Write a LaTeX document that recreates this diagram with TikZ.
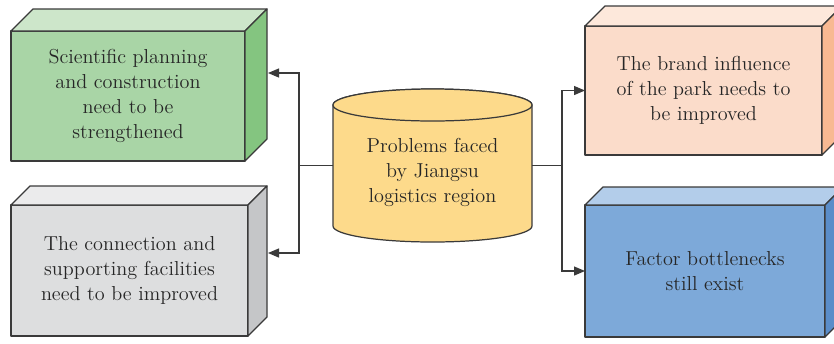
\documentclass[tikz,border=0pt]{standalone}
\usetikzlibrary{arrows.meta}

\definecolor{grnFront}{HTML}{A9D5A6}
\definecolor{grnTop}{HTML}{CDE6CA}
\definecolor{grnSide}{HTML}{84C580}
\definecolor{gryFront}{HTML}{DDDEDF}
\definecolor{gryTop}{HTML}{EBEBEC}
\definecolor{grySide}{HTML}{C5C6C8}
\definecolor{pchFront}{HTML}{FBDCCA}
\definecolor{pchTop}{HTML}{FDE8DB}
\definecolor{pchSide}{HTML}{F8B992}
\definecolor{bluFront}{HTML}{7DA9D9}
\definecolor{bluTop}{HTML}{B3CDEA}
\definecolor{bluSide}{HTML}{5A8DC9}
\definecolor{cylFill}{HTML}{FDDA8B}
\definecolor{ink}{HTML}{3A3A3A}
\definecolor{txtInk}{HTML}{262626}

% top and right faces of a box whose front is node #1
\newcommand\boxsides[4]{%
  \draw[face,fill=#3] (#1.north west) -- ++(#2,#2) -- ([shift={(#2,#2)}]#1.north east) -- (#1.north east) -- cycle;
  \draw[face,fill=#4] (#1.north east) -- ([shift={(#2,#2)}]#1.north east) -- ([shift={(#2,#2)}]#1.south east) -- (#1.south east) -- cycle;
}

\begin{document}
\begin{tikzpicture}[
  face/.style={draw=ink,line width=0.7pt,line join=round},
  txt/.style={align=center,text=txtInk,font=\fontsize{11.5}{14.2}\selectfont},
  front/.style={face,txt,inner sep=0pt,outer sep=0pt},
  link/.style={draw=ink,line width=0.7pt},
  tip/.style={link,-{Triangle[length=2.2mm,width=1.8mm]}}
]
\useasboundingbox (0.000,0.000) rectangle (16.680,-6.860);

% left boxes
\node[front,fill=grnFront,minimum width=4.68cm,minimum height=2.60cm] (plan) at (2.560,-1.920) {Scientific planning\\and construction\\need to be\\strengthened};
\boxsides{plan}{0.44}{grnTop}{grnSide}
\node[front,fill=gryFront,minimum width=4.74cm,minimum height=2.62cm] (conn) at (2.590,-5.410) {The connection and\\supporting facilities\\need to be improved};
\boxsides{conn}{0.38}{gryTop}{grySide}

% right boxes
\node[front,fill=pchFront,minimum width=4.74cm,minimum height=2.58cm] (brand) at (14.070,-1.810) {The brand influence\\of the park needs to\\be improved};
\boxsides{brand}{0.40}{pchTop}{pchSide}
\node[front,fill=bluFront,minimum width=4.80cm,minimum height=2.64cm] (factor) at (14.100,-5.420) {Factor bottlenecks\\still exist};
\boxsides{factor}{0.36}{bluTop}{bluSide}

% central cylinder
\node[minimum width=3.98cm,minimum height=2.42cm,inner sep=0pt,outer sep=0pt] (prob) at (8.650,-3.310) {};
\draw[face,fill=cylFill] (prob.north west) -- (prob.south west) arc[start angle=180,end angle=360,x radius=1.99,y radius=0.32] -- (prob.north east) arc[start angle=0,end angle=180,x radius=1.99,y radius=0.32] -- cycle;
\draw[face,fill=cylFill] (prob.north) ellipse[x radius=1.99,y radius=0.32];
\node[txt] (probtxt) at (8.650,-3.440) {Problems faced\\by Jiangsu\\logistics region};

% connectors
\coordinate (plan-in) at (5.360,-1.460);
\coordinate (conn-in) at (5.360,-5.060);
\draw[link] (prob.west) -- ++(-0.68,0) coordinate (lsplit);
\draw[tip] (lsplit) |- (plan-in);
\draw[tip] (lsplit) |- (conn-in);
\draw[link] (prob.east) -- ++(0.60,0) coordinate (rsplit);
\draw[tip] (rsplit) |- (brand.west);
\draw[tip] (rsplit) |- (factor.west);
\end{tikzpicture}
\end{document}
